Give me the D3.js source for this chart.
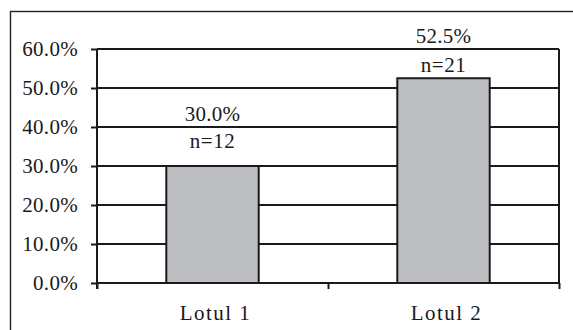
<!DOCTYPE html>
<html>
<head>
<meta charset="utf-8">
<script src="https://cdn.jsdelivr.net/npm/d3@7"></script>
<style>
  body { margin: 0; background: #fff; }
  svg { display: block; }
  text { font-family: 'Liberation Serif', 'Times New Roman', serif; fill: #1a1a1a; }
</style>
</head>
<body>
<div id="chart"></div>
<script>
// Data
var categories = ['Lotul 1', 'Lotul 2'];
var percents = [30.0, 52.5];
var counts = [12, 21];
var yTicks = [0, 10, 20, 30, 40, 50, 60];

var W = 573, H = 330;
var margin = { top: 49, right: 14, bottom: 47, left: 97 };
var width = W - margin.left - margin.right,
    height = H - margin.top - margin.bottom;

var svg = d3.select('#chart')
            .append('svg')
            .attr('width', W)
            .attr('height', H);

// Outer frame
svg.append('rect')
   .attr('x', 10.5)
   .attr('y', 11.5)
   .attr('width', 570)
   .attr('height', 330)
   .attr('fill', 'none')
   .attr('stroke', '#222')
   .attr('stroke-width', 1.4);

var g = svg.append('g')
           .attr('transform', 'translate(' + margin.left + ',' + margin.top + ')');

// Scales
var x = d3.scaleBand()
          .domain(categories)
          .range([0, width])
          .paddingInner(0.6)
          .paddingOuter(0.3);

var xEdge = d3.scaleLinear()
              .domain([0, categories.length])
              .range([0, width]);

var y = d3.scaleLinear()
          .domain([0, 60])
          .range([height, 0]);

// Gridlines
g.selectAll('.grid')
 .data(yTicks.slice(1))
 .enter()
 .append('line')
 .attr('class', 'grid')
 .attr('x1', 0)
 .attr('x2', width)
 .attr('y1', function(d) { return y(d); })
 .attr('y2', function(d) { return y(d); })
 .attr('stroke', '#1a1a1a')
 .attr('stroke-width', 2);

// Right edge of plot area
g.append('line')
 .attr('x1', width)
 .attr('x2', width)
 .attr('y1', 0)
 .attr('y2', height)
 .attr('stroke', '#1a1a1a')
 .attr('stroke-width', 2);

// Bars
g.selectAll('.bar')
 .data(percents)
 .enter()
 .append('rect')
 .attr('class', 'bar')
 .attr('x', function(d, i) { return x(categories[i]); })
 .attr('y', function(d) { return y(d); })
 .attr('width', x.bandwidth())
 .attr('height', function(d) { return height - y(d); })
 .attr('fill', '#bdbec1')
 .attr('stroke', '#1a1a1a')
 .attr('stroke-width', 2);

// Y axis
var yAxis = d3.axisLeft(y)
              .tickValues(yTicks)
              .tickSize(6)
              .tickPadding(13)
              .tickFormat(function(d) { return d.toFixed(1) + '%'; });

var yG = g.append('g').call(yAxis);
yG.select('.domain').attr('stroke', '#1a1a1a').attr('stroke-width', 2).attr('d', 'M0,' + (height + 6) + 'V0');
yG.selectAll('.tick line').attr('stroke', '#1a1a1a').attr('stroke-width', 2);
yG.selectAll('.tick text').style('font-size', '21px').attr('fill', '#1a1a1a')
  .style('font-family', "'Liberation Serif', serif")
  .style('letter-spacing', '0.3px');

// X axis: ticks at category boundaries
var xAxis = d3.axisBottom(xEdge)
              .tickValues(d3.range(categories.length + 1))
              .tickSize(6)
              .tickFormat('');

var xG = g.append('g')
          .attr('transform', 'translate(0,' + height + ')')
          .call(xAxis);
xG.select('.domain').attr('stroke', '#1a1a1a').attr('stroke-width', 2).attr('d', 'M0,0H' + width);
xG.selectAll('.tick line').attr('stroke', '#1a1a1a').attr('stroke-width', 2);

// Category labels
g.selectAll('.cat')
 .data(categories)
 .enter()
 .append('text')
 .attr('class', 'cat')
 .attr('x', function(d) { return x(d) + x.bandwidth() / 2 + 3; })
 .attr('y', height + 37)
 .attr('text-anchor', 'middle')
 .style('font-size', '21px')
 .style('letter-spacing', '1.5px')
 .text(function(d) { return d; });

// Value labels
var pctOffset = [45, 35],
    nOffset = [18, 6];

g.selectAll('.pct')
 .data(percents)
 .enter()
 .append('text')
 .attr('class', 'pct')
 .attr('x', function(d, i) { return x(categories[i]) + x.bandwidth() / 2; })
 .attr('y', function(d, i) { return y(d) - pctOffset[i]; })
 .attr('text-anchor', 'middle')
 .style('font-size', '21px')
 .style('letter-spacing', '0.3px')
 .text(function(d) { return d.toFixed(1) + '%'; });

g.selectAll('.cnt')
 .data(counts)
 .enter()
 .append('text')
 .attr('class', 'cnt')
 .attr('x', function(d, i) { return x(categories[i]) + x.bandwidth() / 2; })
 .attr('y', function(d, i) { return y(percents[i]) - nOffset[i]; })
 .attr('text-anchor', 'middle')
 .style('font-size', '21px')
 .style('letter-spacing', '0.5px')
 .text(function(d) { return 'n=' + d; });
</script>
</body>
</html>
